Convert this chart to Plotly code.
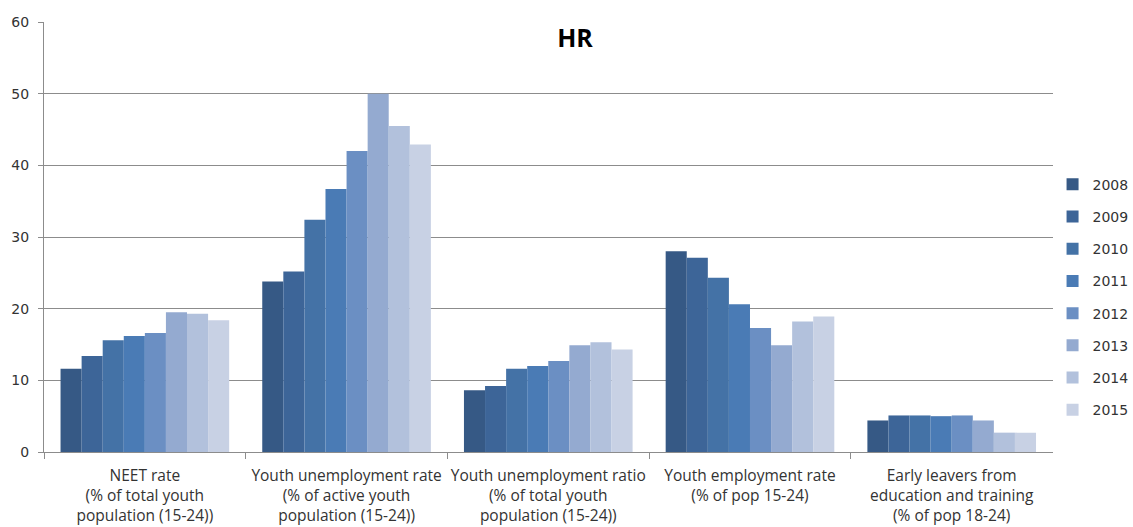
import plotly.graph_objects as go

categories = [
    "NEET rate<br>(% of total youth<br>population (15-24))",
    "Youth unemployment rate<br>(% of active youth<br>population (15-24))",
    "Youth unemployment ratio<br>(% of total youth<br>population (15-24))",
    "Youth employment rate<br>(% of pop 15-24)<br> ",
    "Early leavers from<br>education and training<br>(% of pop 18-24)",
]
years = ["2008", "2009", "2010", "2011", "2012", "2013", "2014", "2015"]
v2008 = [11.6, 23.8, 8.6, 28.0, 4.4]
v2009 = [13.4, 25.2, 9.2, 27.1, 5.1]
v2010 = [15.6, 32.4, 11.6, 24.3, 5.1]
v2011 = [16.2, 36.7, 12.0, 20.6, 5.0]
v2012 = [16.6, 42.0, 12.7, 17.3, 5.1]
v2013 = [19.5, 50.0, 14.9, 14.9, 4.4]
v2014 = [19.3, 45.5, 15.3, 18.2, 2.7]
v2015 = [18.4, 42.9, 14.3, 18.9, 2.7]
series = [v2008, v2009, v2010, v2011, v2012, v2013, v2014, v2015]
colors = ["#365985", "#3d6598", "#4472a6", "#4a7bb5", "#6b8fc3", "#94aad0", "#b2c1dc", "#c8d1e4"]

fig = go.Figure()
for y, vals, c in zip(years, series, colors):
    fig.add_trace(go.Bar(
        name=y, x=categories, y=vals, marker=dict(color=c, line=dict(width=0)),
        legendgroup=y,
    ))

fig.update_layout(
    width=1133, height=527,
    margin=dict(l=44, r=78, t=22, b=75),
    paper_bgcolor="white", plot_bgcolor="white",
    barmode="group", bargap=0.164, bargroupgap=0,
    font=dict(family="Open Sans, DejaVu Sans, sans-serif", size=15, color="#333333"),
    title=dict(text="<b>HR</b>", x=0.5075, xanchor="center", y=0.928, yanchor="middle",
               font=dict(size=25, color="#000000", family="Open Sans, DejaVu Sans, sans-serif")),
    legend=dict(xref="container", yref="container", x=0.929, xanchor="left",
                y=0.436, yanchor="middle",
                traceorder="grouped", tracegroupgap=11, bgcolor="rgba(0,0,0,0)",
                borderwidth=0,
                font=dict(size=14, color="#333333", family="DejaVu Sans, sans-serif"),
                itemwidth=30),
    showlegend=True,
)
fig.update_yaxes(range=[0, 60], dtick=10, showgrid=True, gridcolor="#8c8c8c", gridwidth=1,
                 showline=True, linecolor="#8c8c8c", linewidth=1, automargin=False,
                 ticks="outside", ticklen=5, tickcolor="#8c8c8c", ticklabelstandoff=6,
                 tickfont=dict(size=14, color="#333333", family="DejaVu Sans, sans-serif"),
                 zeroline=False)
fig.update_xaxes(showline=True, linecolor="#8c8c8c", linewidth=1, automargin=False,
                 ticks="outside", ticklen=6, tickcolor="#8c8c8c", tickson="boundaries",
                 ticklabelstandoff=9,
                 tickfont=dict(size=15.5, color="#333333"), tickangle=0)

fig.write_html(
    "out.html",
    config={"displayModeBar": False},
    post_script="document.body.style.margin='0';document.body.style.overflow='hidden';",
)
